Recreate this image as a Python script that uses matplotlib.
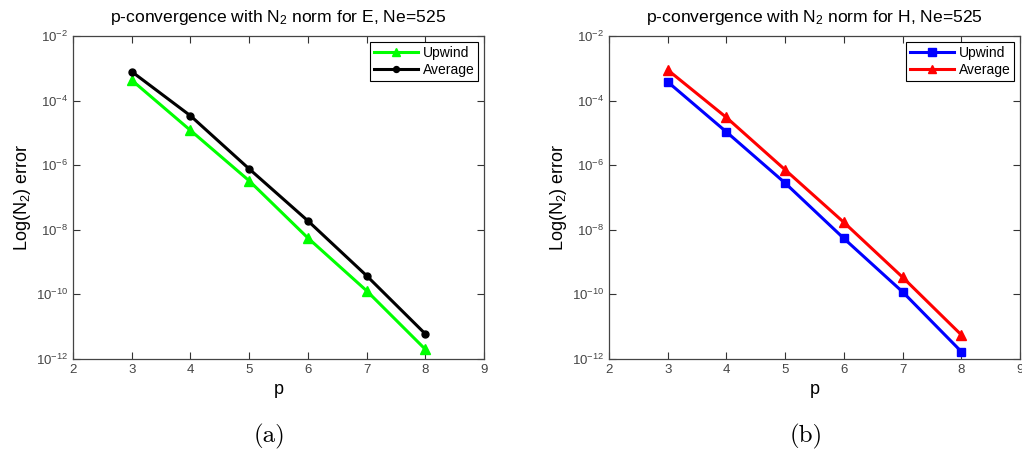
"""Two-panel p-convergence plot (N2 norm error vs. polynomial order p)
for the E and H fields, Ne=525, upwind vs. average flux."""

import numpy as np
import matplotlib
matplotlib.use("Agg")
import matplotlib.pyplot as plt
from matplotlib.ticker import FixedLocator, LogFormatterSciNotation, NullLocator

# polynomial orders
p = [3, 4, 5, 6, 7, 8]

# N2 error, E field
e_upwind = [4.3e-4, 1.2e-5, 3.3e-7, 5.6e-9, 1.3e-10, 2.0e-12]
e_average = [7.9e-4, 3.4e-5, 7.7e-7, 1.9e-8, 3.8e-10, 6.0e-12]

# N2 error, H field
h_upwind = [3.8e-4, 1.07e-5, 2.8e-7, 5.4e-9, 1.2e-10, 1.7e-12]
h_average = [8.9e-4, 3.0e-5, 7.2e-7, 1.7e-8, 3.4e-10, 5.6e-12]

x_ticks = [2, 3, 4, 5, 6, 7, 8, 9]
y_ticks = [1e-12, 1e-10, 1e-8, 1e-6, 1e-4, 1e-2]

plt.rcParams["font.family"] = ["Liberation Sans", "DejaVu Sans"]
plt.rcParams["mathtext.fontset"] = "custom"
plt.rcParams["mathtext.rm"] = "Liberation Sans"
plt.rcParams["mathtext.it"] = "Liberation Sans:italic"

W, H = 1022, 457
fig = plt.figure(figsize=(W / 100, H / 100), dpi=100)


def make_axes(left_px, title, series, caption):
    ax = fig.add_axes([left_px / W, (H - 359) / H, 411 / W, 323 / H])
    for y, color, marker, ms, label in series:
        ax.plot(p, y, color=color, marker=marker, markersize=ms,
                linewidth=2.2, label=label)
    ax.set_yscale("log")
    ax.set_xlim(2, 9)
    ax.set_ylim(1e-12, 1e-2)
    ax.xaxis.set_major_locator(FixedLocator(x_ticks))
    ax.yaxis.set_major_locator(FixedLocator(y_ticks))
    ax.yaxis.set_major_formatter(LogFormatterSciNotation())
    ax.yaxis.set_minor_locator(NullLocator())
    ax.tick_params(direction="in", top=True, right=True, length=5,
                   width=0.8, labelsize=9.5, labelcolor="#444444",
                   color="#333333")
    for s in ax.spines.values():
        s.set_color("#444444")
        s.set_linewidth(0.9)
    ax.set_title(title, fontsize=12.6, pad=10)
    ax.set_xlabel("p", fontsize=13, labelpad=4)
    ax.set_ylabel("Log(N$_2$) error", fontsize=13, labelpad=2)
    leg = ax.legend(loc="upper right", fontsize=10, fancybox=False,
                    framealpha=1, edgecolor="black", handlelength=3.2,
                    borderpad=0.3, labelspacing=0.25, handletextpad=0.3,
                    borderaxespad=0.4, markerscale=0.85)
    leg.get_frame().set_linewidth(0.8)
    fig.text((left_px + 197) / W, 1 - 436 / H, caption, family="cmr10",
             fontsize=18, ha="center", va="center")
    return ax


make_axes(73, "p-convergence with N$_2$ norm for E, Ne=525",
          [(e_upwind, "#00ff00", "^", 6.5, "Upwind"),
           (e_average, "black", "o", 5, "Average")], "(a)")
make_axes(609, "p-convergence with N$_2$ norm for H, Ne=525",
          [(h_upwind, "blue", "s", 6, "Upwind"),
           (h_average, "red", "^", 6.5, "Average")], "(b)")

fig.savefig("out.png", dpi=100)
